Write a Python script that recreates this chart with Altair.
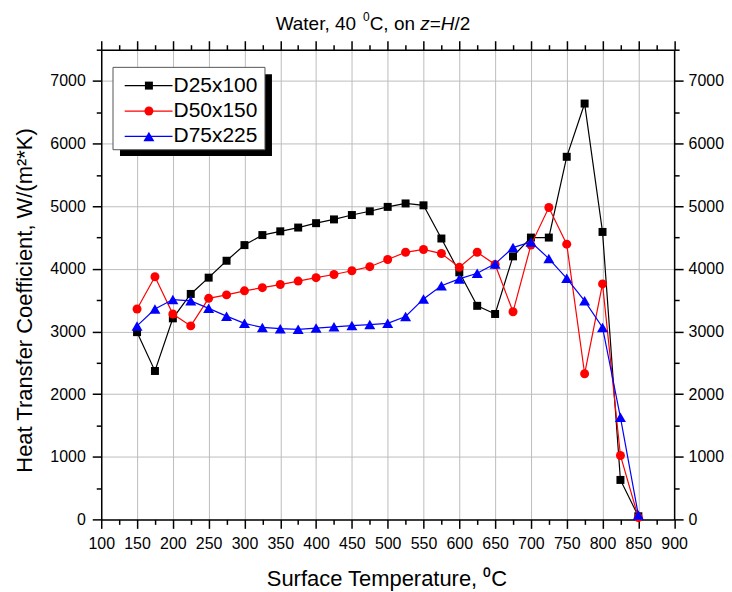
import altair as alt
import pandas as pd

# ---------------- data ----------------
temps = [150, 175, 200, 225, 250, 275, 300, 325, 350, 375, 400, 425, 450, 475,
         500, 525, 550, 575, 600, 625, 650, 675, 700, 725, 750, 775, 800, 825, 850]

htc_d25 = [2990, 2370, 3210, 3600, 3860, 4130, 4380, 4540, 4600, 4660, 4730, 4790,
           4860, 4920, 4990, 5045, 5015, 4485, 3945, 3410, 3280, 4200, 4500, 4500,
           5790, 6640, 4590, 630, 50]
htc_d50 = [3360, 3875, 3280, 3090, 3530, 3585, 3650, 3700, 3750, 3805, 3860, 3910,
           3970, 4035, 4150, 4265, 4310, 4245, 4025, 4265, 4070, 3315, 4380, 4980,
           4395, 2325, 3760, 1020, 30]
htc_d75 = [3090, 3360, 3510, 3490, 3370, 3245, 3130, 3065, 3045, 3035, 3055, 3075,
           3095, 3110, 3130, 3240, 3520, 3730, 3840, 3930, 4080, 4340, 4430, 4165,
           3850, 3490, 3065, 1630, 70]

series_names = ["D25x100", "D50x150", "D75x225"]
series_colors = ["#000000", "#ff0000", "#0000ff"]
series_shapes = ["square", "circle", "triangle-up"]
series_sizes = [64, 81, 121]

x_ticks = list(range(100, 901, 25))
y_ticks = list(range(0, 7501, 500))

rows = []
for name, vals in zip(series_names, [htc_d25, htc_d50, htc_d75]):
    for t, v in zip(temps, vals):
        rows.append({"series": name, "temp": t, "htc": v})
df = pd.DataFrame(rows)

# ---------------- layout ----------------
W, H = 574.5, 471
FONT = "Liberation Sans"

xscale = alt.Scale(domain=[100, 900], nice=False, zero=False)
yscale = alt.Scale(domain=[0, 7500], nice=False)
cscale = alt.Scale(domain=series_names, range=series_colors)

mx = "datum.value % 50 === 0"
my = "datum.value % 1000 === 0"
tick_x = {"condition": {"test": mx, "value": 9}, "value": 5}
tick_y = {"condition": {"test": my, "value": 9}, "value": 5}
grid_x = {"condition": {"test": mx + " && datum.value > 100 && datum.value < 900", "value": 1}, "value": 0}
grid_y = {"condition": {"test": my + " && datum.value > 0", "value": 1}, "value": 0}

common = dict(labelFont=FONT, labelFontSize=16, labelColor="black", labelOverlap=False,
              labelFlush=False, labelBound=False, tickColor="black", tickWidth=1.5,
              domainColor="black", domainWidth=1.5, format="d")

ax_bottom = alt.Axis(orient="bottom", values=x_ticks, labelExpr=f"{mx} ? datum.label : ''",
                     labelPadding=7, tickSize=tick_x, grid=True, gridColor="#bdbdbd",
                     gridWidth=1, gridOpacity=grid_x,
                     title="Surface Temperature, \u2070C", titleFont=FONT, titleFontSize=22,
                     titleFontWeight="normal", titleColor="black", titleX=286, titleY=66,
                     titleBaseline="alphabetic", titleAlign="center", **common)
ax_left = alt.Axis(orient="left", values=y_ticks, labelExpr=f"{my} ? datum.label : ''",
                   labelPadding=7, tickSize=tick_y, grid=True, gridColor="#bdbdbd",
                   gridWidth=1, gridOpacity=grid_y,
                   title="Heat Transfer Coefficient, W/(m\u00b2*K)", titleFont=FONT,
                   titleFontSize=22, titleFontWeight="normal", titleColor="black",
                   titleAngle=270, titleX=-69.5, titleY=251, titleBaseline="alphabetic",
                   titleAlign="center", **common)
ax_top = alt.Axis(orient="top", values=x_ticks, labels=False, tickSize=tick_x, grid=False,
                  title=None, **common)
ax_right = alt.Axis(orient="right", values=y_ticks, labelExpr=f"{my} ? datum.label : ''",
                    labelPadding=5, tickSize=tick_y, grid=False, title=None, **common)

layers = []
for i, name in enumerate(series_names):
    sub = alt.Chart(df).transform_filter(alt.datum.series == name)
    line = sub.mark_line(strokeWidth=1.2).encode(
        x=alt.X("temp:Q", scale=xscale, axis=ax_bottom if i == 0 else None),
        y=alt.Y("htc:Q", scale=yscale, axis=ax_left if i == 0 else None),
        color=alt.Color("series:N", scale=cscale, legend=None),
    )
    pts = sub.mark_point(filled=True, opacity=1, shape=series_shapes[i],
                         size=series_sizes[i]).encode(
        x=alt.X("temp:Q", scale=xscale, axis=ax_top if i == 0 else None),
        y=alt.Y("htc:Q", scale=yscale, axis=ax_right if i == 0 else None),
        color=alt.Color("series:N", scale=cscale, legend=None),
    )
    layers += [line, pts]

# ---------------- legend (box with drop shadow) ----------------
one = alt.Data(values=[{"k": 1}])
shadow = alt.Chart(one).mark_rect(color="black").encode(
    x=alt.value(18.8), x2=alt.value(171.2), y=alt.value(24.7), y2=alt.value(106.7))
box = alt.Chart(one).mark_rect(fill="white", stroke="#555555", strokeWidth=1).encode(
    x=alt.value(11.8), x2=alt.value(164.2), y=alt.value(17.7), y2=alt.value(100.3))

legend_layers = [shadow, box]
for i, name in enumerate(series_names):
    ly = 36 + i * 25.5
    legend_layers.append(alt.Chart(one).mark_rule(color=series_colors[i], strokeWidth=1.2).encode(
        x=alt.value(23.5), x2=alt.value(71.5), y=alt.value(ly)))
    legend_layers.append(alt.Chart(one).mark_point(filled=True, opacity=1, shape=series_shapes[i],
                                                   size=series_sizes[i], color=series_colors[i]).encode(
        x=alt.value(47.8), y=alt.value(ly)))
    legend_layers.append(alt.Chart(one).mark_text(text=name, font=FONT, fontSize=21, align="left",
                                                  baseline="middle", color="black").encode(
        x=alt.value(72.5), y=alt.value(ly)))

# title "Water, 40 °C, on z=H/2" (superscript 0, italic z and H)
def seg(text, x, y, size=19, style="normal"):
    return alt.Chart(one).mark_text(text=text, font=FONT, fontSize=size, fontStyle=style,
                                    align="left", baseline="alphabetic", color="black").encode(
        x=alt.value(x), y=alt.value(y))

title_layers = [
    seg("Water, 40 ", 174.9, -20),
    seg("0", 262.6, -28.3, size=12),
    seg("C, on ", 269.2, -20),
    seg("z", 319.9, -20, style="italic"),
    seg("=", 329.4, -20),
    seg("H", 340.5, -20, style="italic"),
    seg("/2", 354.2, -20),
]

chart = alt.layer(*layers, *legend_layers, *title_layers).resolve_axis(
    x="independent", y="independent"
).properties(
    width=W, height=H,
    autosize=alt.AutoSizeParams(type="none"),
    padding={"left": 93.5, "top": 41, "right": 50, "bottom": 72},
).configure_view(stroke="black", strokeWidth=1.5).configure(background="white")

chart.save("out.html", embed_options={"renderer": "svg", "actions": False})
